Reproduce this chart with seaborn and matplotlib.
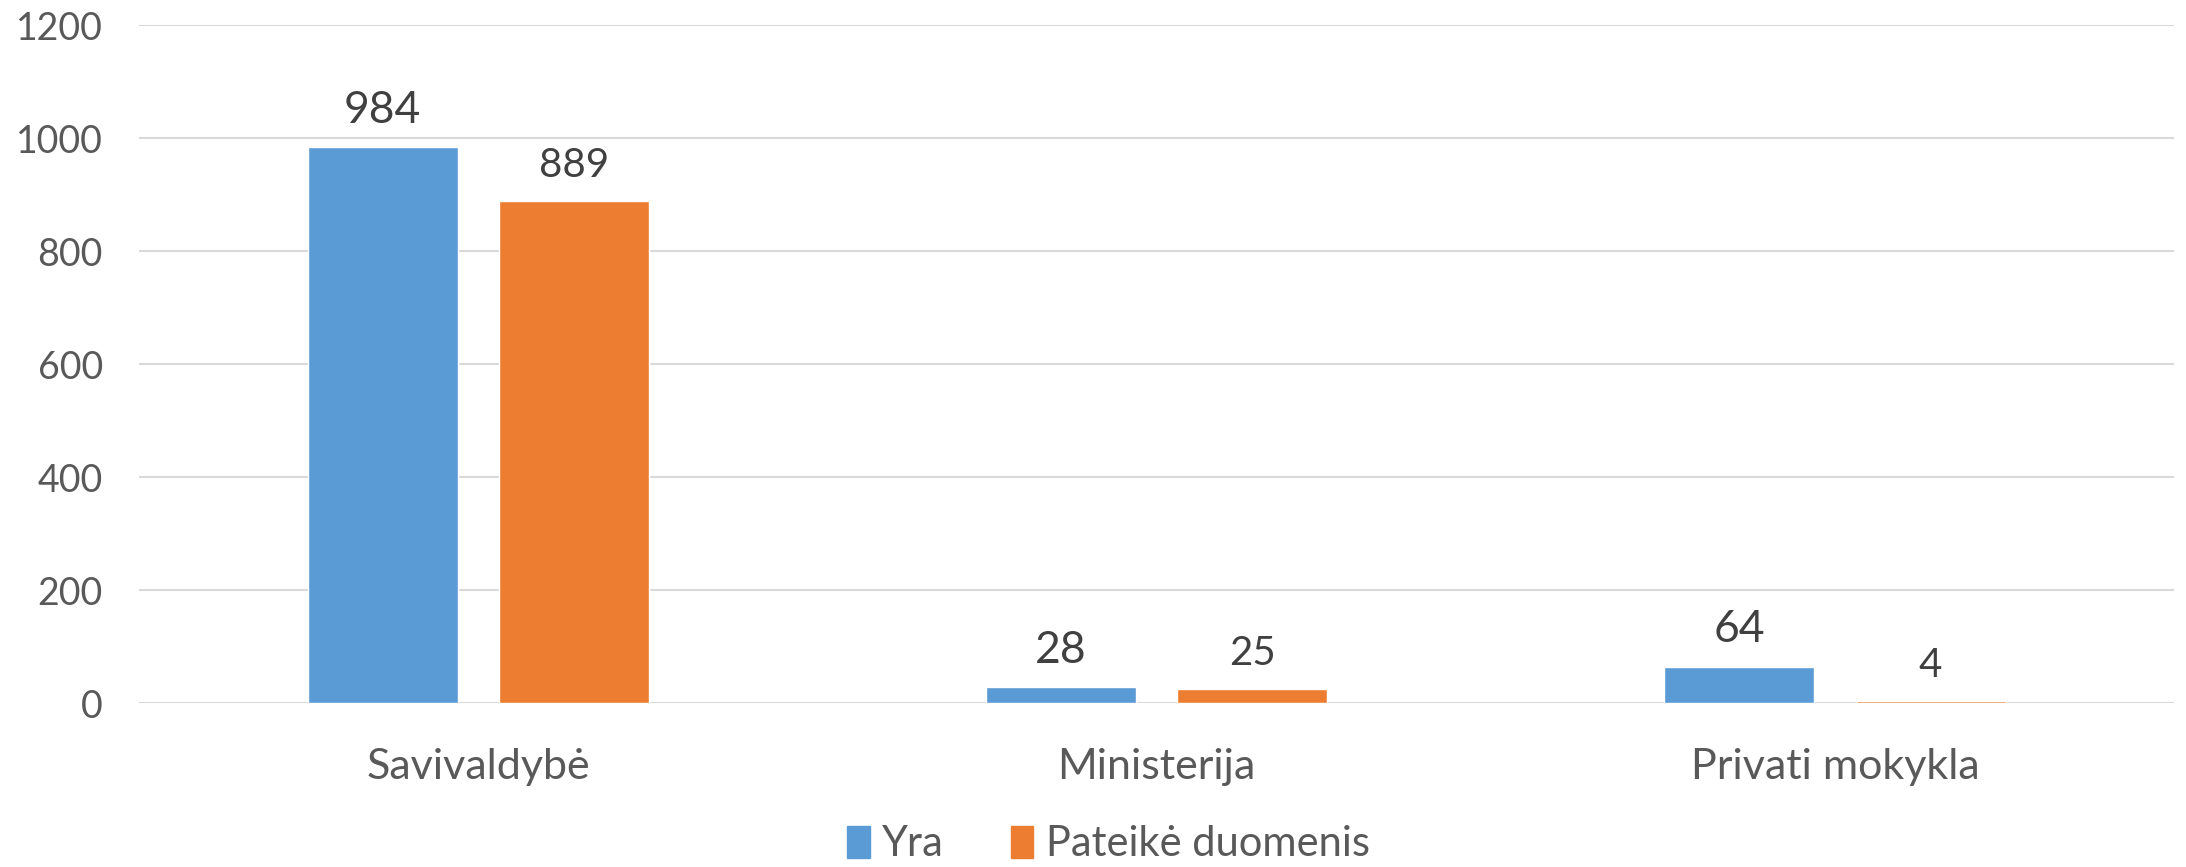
import pandas as pd
import matplotlib
matplotlib.use("Agg")
import matplotlib.pyplot as plt
import seaborn as sns

categories = ["Savivaldybė", "Ministerija", "Privati mokykla"]
series_names = ["Yra", "Pateikė duomenis"]
yra = [984, 28, 64]
pateike = [889, 25, 4]
yticks = [0, 200, 400, 600, 800, 1000, 1200]

colors = ["#5B9BD5", "#ED7D31"]

df = pd.DataFrame({
    "Kategorija": categories * 2,
    "Serija": [series_names[0]] * 3 + [series_names[1]] * 3,
    "Reiksme": yra + pateike,
})

sns.set_style("white")
plt.rcParams["font.family"] = ["Lato", "DejaVu Sans"]

fig = plt.figure(figsize=(21.86, 8.67), dpi=100)
ax = fig.add_axes([0.0636, 0.189, 0.931, 0.782])

sns.barplot(data=df, x="Kategorija", y="Reiksme", hue="Serija",
            palette=colors, width=0.564, gap=0.216, ax=ax, legend=False,
            saturation=1)

ax.set_ylim(0, 1200)
ax.set_yticks(yticks)
ax.set_xlim(-0.5, 2.5)
ax.yaxis.grid(True, color="#D9D9D9", linewidth=1.5)
ax.set_axisbelow(True)
for s in ax.spines.values():
    s.set_visible(False)
ax.axhline(0, color="#D9D9D9", linewidth=2, zorder=0.5)

ax.tick_params(axis="y", labelsize=27, labelcolor="#595959", length=0, pad=26)
ax.tick_params(axis="x", labelsize=31, labelcolor="#595959", length=0, pad=32)
ax.set_xlabel("")
ax.set_ylabel("")

# Reikšmių etiketės virš stulpelių
ax.bar_label(ax.containers[0], fontsize=32, color="#404040", padding=12)
ax.bar_label(ax.containers[1], fontsize=29, color="#404040", padding=12)

handles = [plt.Rectangle((0, 0), 1, 1, color=c) for c in colors]
fig.legend(handles, series_names, loc="center", bbox_to_anchor=(0.507, 0.026),
           ncol=2, frameon=False, fontsize=30, labelcolor="#595959",
           handlelength=0.55, handleheight=0.8, handletextpad=0.3,
           columnspacing=1.6)

fig.savefig("out.png", dpi=100)
